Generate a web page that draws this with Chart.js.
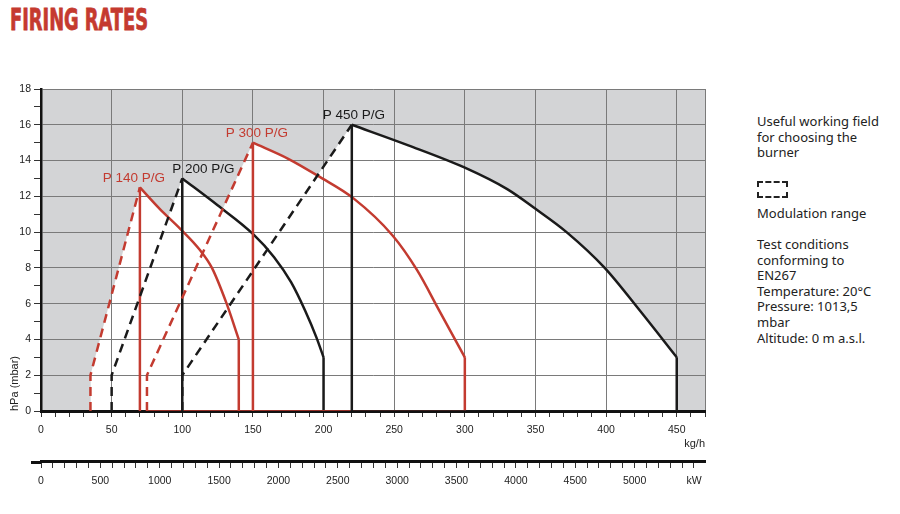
<!DOCTYPE html>
<html lang="en">
<head>
<meta charset="UTF-8">
<title>Firing rates</title>
<script src="https://cdn.jsdelivr.net/npm/chart.js"></script>
<style>
  * { margin: 0; padding: 0; box-sizing: border-box; }
  body {
    width: 900px; height: 514px; position: relative; overflow: hidden;
    background: #fff; color: #222;
    font-family: 'Liberation Sans', Arial, sans-serif;
  }
  #title {
    position: absolute; left: 10px; top: 2px;
    font-family: 'DejaVu Sans Condensed', 'Liberation Sans Narrow', 'Liberation Sans', sans-serif;
    font-weight: 700; font-size: 30px; color: #c53a2f;
    -webkit-text-stroke: 0.8px #c53a2f;
    transform: scaleX(0.66); transform-origin: left top;
    white-space: nowrap;
  }
  .chart-box { position: absolute; left: 0; top: 0; width: 720px; height: 514px; }
  .side {
    position: absolute; left: 757px;
    font-family: 'Noto Sans', sans-serif; font-size: 13px; line-height: 15.6px; color: #222;
  }
  .mod-icon {
    position: absolute; left: 757px; top: 181px; width: 31px; height: 17px;
    border: 2.5px dashed #222;
  }
</style>
</head>
<body>
  <div id="title">FIRING RATES</div>
  <div class="chart-box"><canvas id="ratesChart"></canvas></div>

  <div class="side" style="top:114px">Useful working field<br>for choosing the<br>burner</div>
  <div class="mod-icon"></div>
  <div class="side" style="top:206px">Modulation range</div>
  <div class="side" style="top:237px">Test conditions<br>conforming to<br>EN267<br>Temperature: 20°C<br>Pressure: 1013,5<br>mbar<br>Altitude: 0 m a.s.l.</div>

<script>
  // burner models
  const models = ['P 140 P/G', 'P 200 P/G', 'P 300 P/G', 'P 450 P/G'];

  // modulation range: minimum output (kg/h) between 0 and 2 hPa
  const modMin = [35, 50, 75, 100];
  const modKnee = 2;

  // maximum output curves, [kg/h, hPa], first point = peak
  const p140Curve = [[70, 12.5], [84, 11.3], [98.4, 10.2], [112.5, 9], [121, 8], [131.4, 6], [140, 4]];
  const p200Curve = [[100, 13], [125, 11.5], [150, 9.9], [165, 8.6], [177, 7.2], [187, 5.6], [195, 4.1], [200, 3]];
  const p300Curve = [[150, 15], [175, 14.1], [197, 13.1], [221, 11.9], [249, 9.8], [266, 7.9], [282, 5.6], [300, 3]];
  const p450Curve = [[220, 16], [260, 14.85], [300, 13.6], [330, 12.4], [350, 11.3], [372, 10], [399, 8], [424, 5.6], [450, 3]];
  const curves = [p140Curve, p200Curve, p300Curve, p450Curve];

  // base line runs drawn on the 0 hPa line (kg/h)
  const baseRuns = [null, null, [75, 300], [220, 450]];

  // axes
  const kghMax = 470;
  const hpaMax = 18;
  const kwPerKgh = 11.9;
  const kwTickStep = 100;
  const kwLabelStep = 500;
  const kwUnitAt = 5500;

  const RED = '#c33b30';
  const BLACK = '#1a1a1a';
  const colors = [RED, BLACK, RED, BLACK];
  const labelShift = [-6, 21, 4, 2];

  Chart.defaults.font.family = "'Liberation Sans', Arial, sans-serif";
  Chart.defaults.color = '#222';

  const pt = (p) => ({ x: p[0], y: p[1] });
  const lineStyle = (color) => ({
    borderColor: color, borderWidth: 2.5, pointRadius: 0, fill: false,
    borderCapStyle: 'butt', borderJoinStyle: 'miter'
  });

  const datasets = [];
  curves.forEach((curve, i) => {
    const peak = curve[0];
    const end = curve[curve.length - 1];
    // modulation (dashed) - also fills the working field white
    datasets.push(Object.assign(lineStyle(colors[i]), {
      data: [pt([modMin[i], 0]), pt([modMin[i], modKnee]), pt(peak)],
      borderDash: [9, 6], fill: 'origin', backgroundColor: '#fff'
    }));
    // max output curve
    datasets.push(Object.assign(lineStyle(colors[i]), {
      data: curve.map(pt), cubicInterpolationMode: 'monotone',
      fill: 'origin', backgroundColor: '#fff'
    }));
    datasets.push(Object.assign(lineStyle(colors[i]), { data: [pt([peak[0], 0]), pt(peak)] }));
    datasets.push(Object.assign(lineStyle(colors[i]), { data: [pt(end), pt([end[0], 0])] }));
    if (baseRuns[i]) {
      datasets.push(Object.assign(lineStyle(colors[i]), {
        data: [pt([baseRuns[i][0], 0]), pt([baseRuns[i][1], 0])], borderWidth: 1.5
      }));
    }
  });
  datasets.reverse();
  // grey field outside the working ranges, drawn first
  datasets.push({
    data: [pt([0, hpaMax]), pt([kghMax, hpaMax])], fill: 'origin',
    backgroundColor: '#d3d4d6', borderColor: 'transparent', borderWidth: 0,
    pointRadius: 0, order: 100
  });

  const peakLabels = {
    id: 'peakLabels',
    afterDatasetsDraw(chart) {
      const { ctx, scales: { x, y } } = chart;
      ctx.save();
      ctx.font = "13.5px 'Liberation Sans', Arial, sans-serif";
      ctx.textAlign = 'center';
      ctx.textBaseline = 'middle';
      curves.forEach((c, i) => {
        ctx.fillStyle = colors[i];
        ctx.fillText(models[i], x.getPixelForValue(c[0][0]) + labelShift[i], y.getPixelForValue(c[0][1]) - 9.5);
      });
      ctx.restore();
    }
  };

  // the kW rule sticks out a little to the left of the diagram
  const kwRule = {
    id: 'kwRule',
    afterDraw(chart) {
      const s = chart.scales.x2;
      const ctx = chart.ctx;
      ctx.save();
      ctx.strokeStyle = '#111';
      ctx.lineWidth = 3;
      ctx.beginPath();
      ctx.moveTo(s.left - 10, s.top + 1.5);
      ctx.lineTo(s.left, s.top + 1.5);
      ctx.stroke();
      ctx.restore();
    }
  };

  const gridColor = '#7a7a7a';

  new Chart(document.getElementById('ratesChart'), {
    type: 'line',
    data: { datasets },
    plugins: [peakLabels, kwRule],
    options: {
      responsive: true,
      maintainAspectRatio: false,
      animation: false,
      layout: { padding: { top: 89, right: 15, bottom: 23, left: 0 } },
      plugins: {
        legend: { display: false },
        tooltip: { enabled: false },
        filler: { drawTime: 'beforeDraw' }
      },
      scales: {
        x: {
          type: 'linear', position: 'bottom', weight: 0, min: 0, max: kghMax,
          afterFit: (s) => { s.height = 50; },
          ticks: {
            stepSize: 10, autoSkip: false, maxRotation: 0, padding: 7,
            font: { size: 10.5 },
            callback: (v) => (v % 50 === 0 && v <= 450 ? v : '')
          },
          grid: {
            color: (c) => (c.tick && (c.tick.value % 50 === 0 || c.tick.value === kghMax)) ? gridColor : 'transparent',
            tickColor: '#333', tickLength: 6, lineWidth: 1
          },
          border: { color: '#111', width: 3 },
          title: { display: true, text: 'kg/h', align: 'end', padding: { top: 0, bottom: 10 }, font: { size: 11 } }
        },
        x2: {
          type: 'linear', position: 'bottom', weight: 1, min: 0, max: kghMax * kwPerKgh,
          afterFit: (s) => { s.height = 30; },
          afterBuildTicks: (s) => {
            const ticks = [];
            for (let v = 0; v <= kwUnitAt; v += kwTickStep) ticks.push({ value: v });
            s.ticks = ticks;
          },
          ticks: {
            autoSkip: false, maxRotation: 0, padding: 7,
            font: { size: 10.5 },
            callback: (v) => (v === kwUnitAt ? 'kW' : (v % kwLabelStep === 0 ? v : ''))
          },
          grid: { drawOnChartArea: false, color: '#333', tickLength: 7 },
          border: { color: '#111', width: 3 }
        },
        y: {
          min: 0, max: hpaMax,
          afterFit: (s) => { s.width = 41; },
          ticks: {
            stepSize: 1, autoSkip: false, padding: 3,
            font: { size: 10.5 },
            callback: (v) => (v % 2 === 0 ? v : '')
          },
          grid: {
            color: (c) => (c.tick && c.tick.value % 2 === 0) ? gridColor : 'transparent',
            tickColor: '#333', tickLength: 7, lineWidth: 1
          },
          border: { color: '#111', width: 2.5 },
          title: { display: true, text: 'hPa (mbar)', align: 'start', padding: { top: 8, bottom: 0 }, font: { size: 11 } }
        }
      }
    }
  });
</script>
</body>
</html>
